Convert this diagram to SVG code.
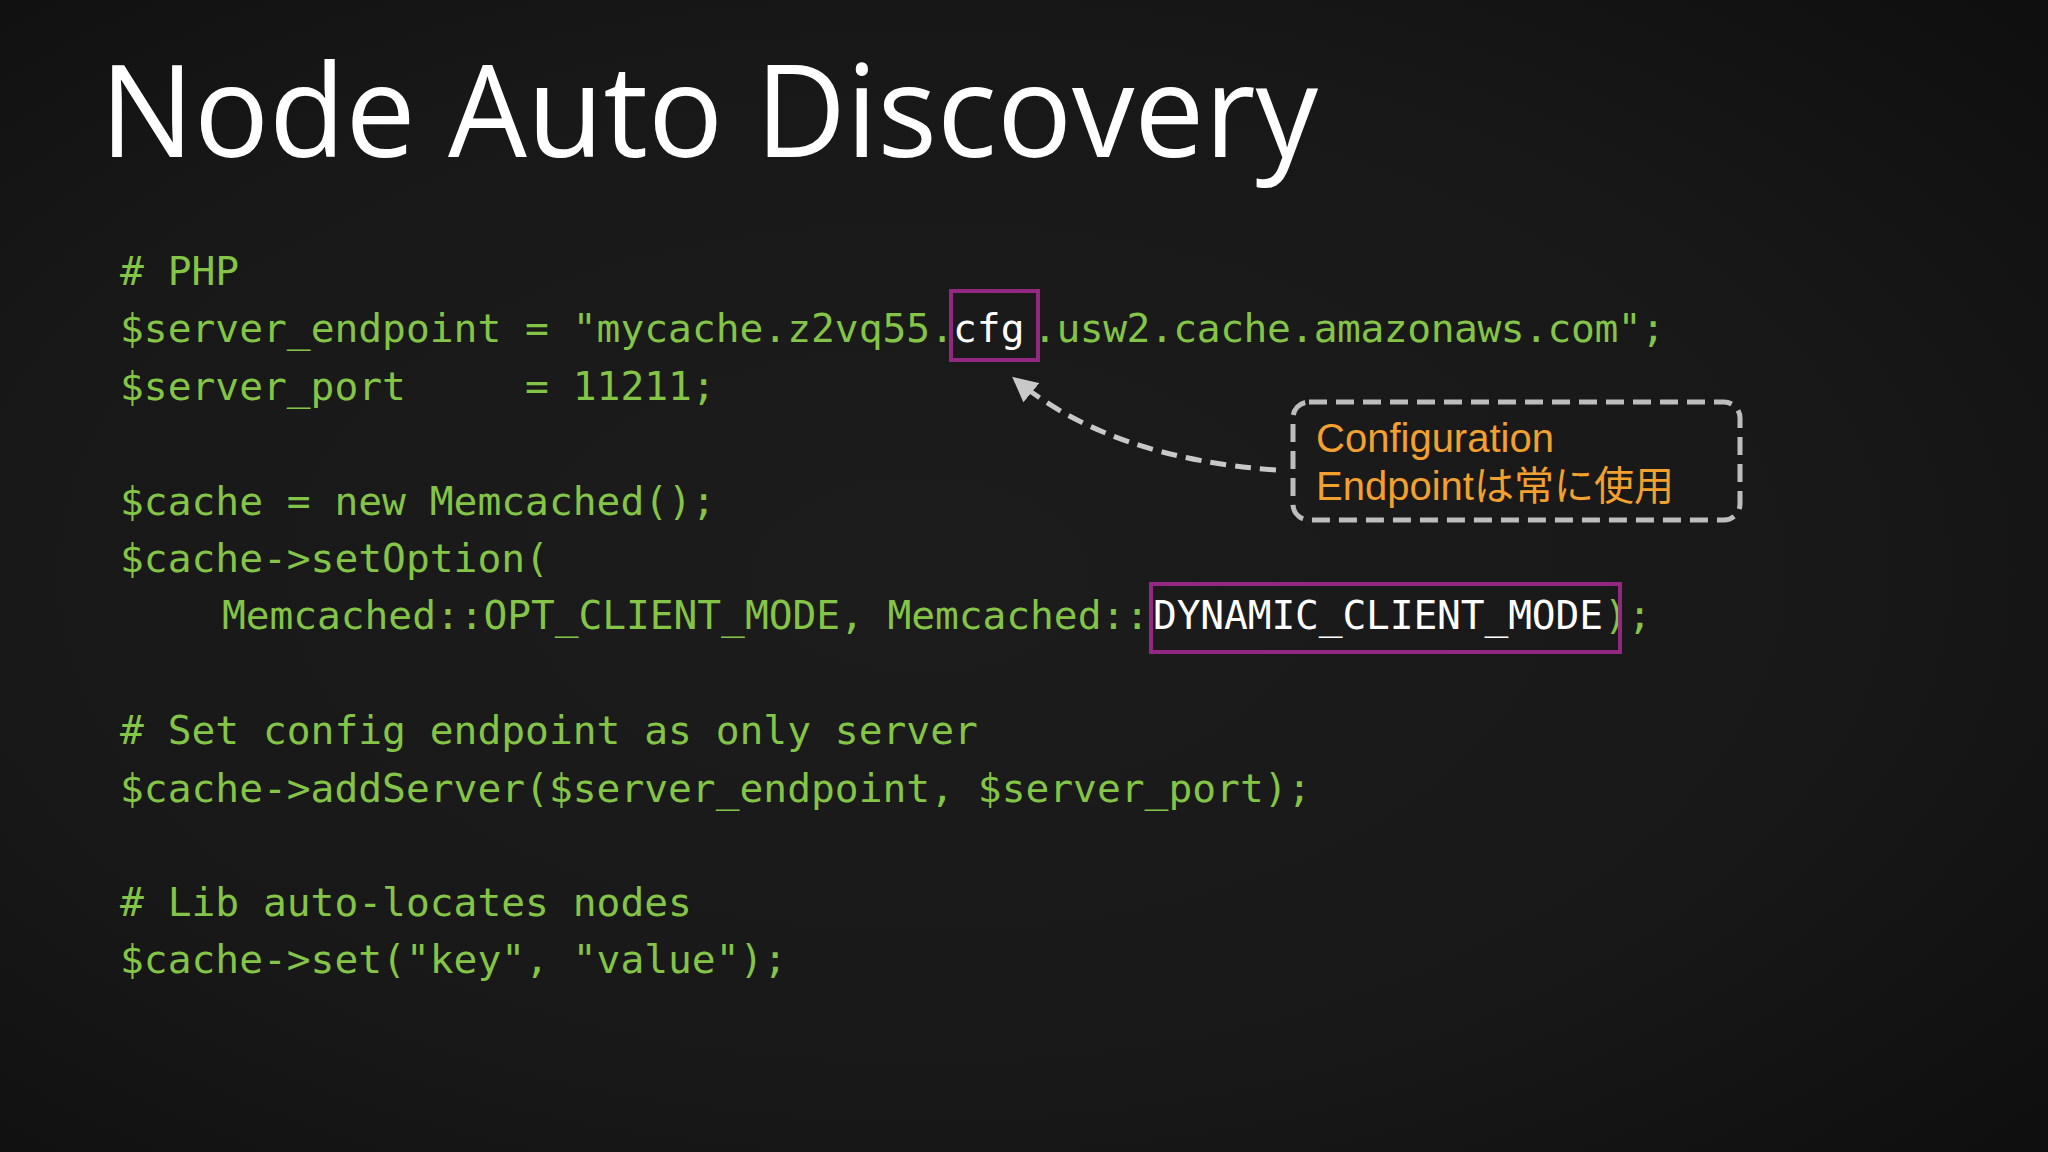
<svg xmlns="http://www.w3.org/2000/svg" width="2048" height="1152" viewBox="0 0 2048 1152">
<defs>
<radialGradient id="bg" cx="0.45" cy="0.5" r="0.75">
<stop offset="0" stop-color="#1c1c1c"/><stop offset="0.6" stop-color="#181818"/><stop offset="1" stop-color="#0e0e0e"/>
</radialGradient>
<marker id="ah" viewBox="0 0 10 10" refX="8" refY="5" markerWidth="5" markerHeight="5" orient="auto"><path d="M0,0 L10,5 L0,10 z" fill="#c8c8c8"/></marker>
<style>
.code{font-family:"DejaVu Sans Mono",monospace;font-size:39.6px;fill:#84c446;white-space:pre}
.w{fill:#ffffff}
.hl{fill:none;stroke:#92287f;stroke-width:4}
.note{font-family:"Liberation Sans","Noto Sans CJK JP",sans-serif;font-size:40px;fill:#f2a02e}
</style>
</defs>
<rect width="2048" height="1152" fill="url(#bg)"/>
<text x="100" y="157" font-family="Open Sans, Liberation Sans, sans-serif" font-size="128" fill="#ffffff" textLength="1218" lengthAdjust="spacingAndGlyphs">Node Auto Discovery</text>
<g id="code" xml:space="preserve">
<text class="code" x="120" y="285"># PHP</text>
<text class="code" y="342"><tspan x="120" textLength="834" lengthAdjust="spacing">$server_endpoint = "mycache.z2vq55.</tspan><tspan class="w" x="953">cfg</tspan><tspan x="1033" textLength="632" lengthAdjust="spacing">.usw2.cache.amazonaws.com";</tspan></text>
<text class="code" x="120" y="400">$server_port     = 11211;</text>
<text class="code" x="120" y="515">$cache = new Memcached();</text>
<text class="code" x="120" y="572">$cache-&gt;setOption(</text>
<text class="code" y="629"><tspan x="222" textLength="927" lengthAdjust="spacing">Memcached::OPT_CLIENT_MODE, Memcached::</tspan><tspan class="w" x="1153" textLength="450" lengthAdjust="spacing">DYNAMIC_CLIENT_MODE</tspan><tspan x="1604">);</tspan></text>
<text class="code" x="120" y="744"># Set config endpoint as only server</text>
<text class="code" x="120" y="802">$cache-&gt;addServer($server_endpoint, $server_port);</text>
<text class="code" x="120" y="916"># Lib auto-locates nodes</text>
<text class="code" x="120" y="973">$cache-&gt;set("key", "value");</text>
</g>
<g id="highlights">
<rect class="hl" x="951" y="291" width="87" height="69"/>
<rect class="hl" x="1151" y="584" width="469" height="68"/>
</g>
<g id="callout">
<rect x="1293" y="402" width="447" height="118" rx="16" fill="none" stroke="#bdbdbd" stroke-width="5" stroke-dasharray="18,9"/>
<text class="note" x="1316" y="452">Configuration</text>
<text class="note" x="1316" y="500">Endpointは常に使用</text>
</g>
<g id="connectors">
<path d="M1276,470 Q1110,458 1016,380" fill="none" stroke="#c8c8c8" stroke-width="5" stroke-dasharray="16,9" marker-end="url(#ah)"/>
</g>
</svg>
